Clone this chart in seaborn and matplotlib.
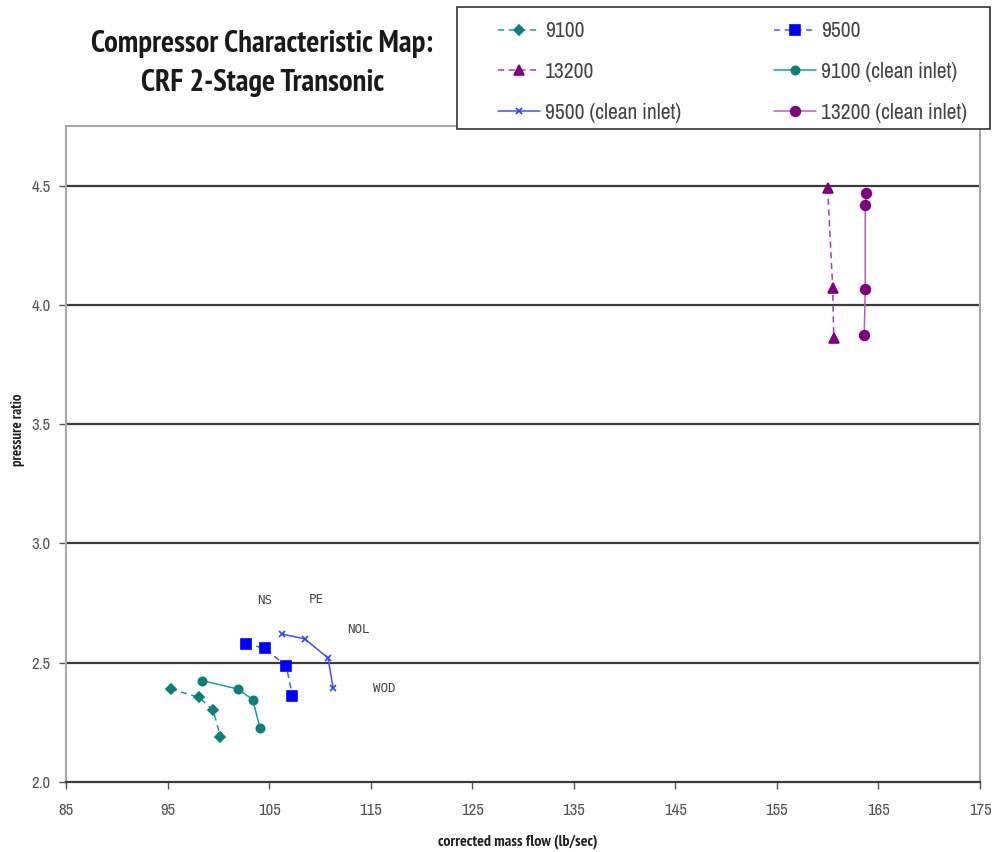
import matplotlib
matplotlib.use("Agg")
import matplotlib.pyplot as plt
from matplotlib import font_manager
from matplotlib.font_manager import FontProperties
from matplotlib.patches import Rectangle
import seaborn as sns
import pandas as pd

# Compressor map data: corrected mass flow (lb/sec) vs pressure ratio
mass_9100 = [95.3, 98.1, 99.5, 100.2]
pr_9100 = [2.39, 2.355, 2.30, 2.19]

mass_9500 = [102.7, 104.6, 106.7, 107.3]
pr_9500 = [2.58, 2.56, 2.485, 2.36]

mass_13200 = [160.0, 160.5, 160.6]
pr_13200 = [4.49, 4.07, 3.86]

mass_9100_clean = [98.4, 101.9, 103.4, 104.1]
pr_9100_clean = [2.425, 2.39, 2.345, 2.225]

mass_9500_clean = [106.3, 108.5, 110.8, 111.3]
pr_9500_clean = [2.62, 2.60, 2.52, 2.395]

mass_13200_clean = [163.8, 163.7, 163.7, 163.6]
pr_13200_clean = [4.47, 4.42, 4.065, 3.875]

series_names = ["9100", "9500", "13200",
                "9100 (clean inlet)", "9500 (clean inlet)", "13200 (clean inlet)"]

x_ticks = [85, 95, 105, 115, 125, 135, 145, 155, 165, 175]
y_ticks = [2.0, 2.5, 3.0, 3.5, 4.0, 4.5]

operating_labels = ["NS", "PE", "NOL", "WOD"]
operating_x = [104.6, 109.6, 113.8, 116.3]
operating_y = [2.76, 2.765, 2.64, 2.39]

frames = []
for name, xs, ys in zip(series_names,
                        [mass_9100, mass_9500, mass_13200,
                         mass_9100_clean, mass_9500_clean, mass_13200_clean],
                        [pr_9100, pr_9500, pr_13200,
                         pr_9100_clean, pr_9500_clean, pr_13200_clean]):
    frames.append(pd.DataFrame({"series": name, "flow": xs, "pr": ys}))
df = pd.concat(frames, ignore_index=True)

sns.set_theme(style="white")
plt.rcParams["font.family"] = ["Liberation Sans", "DejaVu Sans"]


def find_font(bold):
    """Return the file of a narrow/condensed sans face, if one is installed."""
    best = None
    for f in font_manager.fontManager.ttflist:
        fn = f.fname.lower()
        if ("narrow" in fn or "condensed" in fn) and "mono" not in fn and "serif" not in fn:
            is_bold = "bold" in fn
            is_ital = "italic" in fn or "oblique" in fn
            if is_ital or is_bold != bold:
                continue
            rank = 0 if "narrow" in fn else 1
            if best is None or rank < best[0]:
                best = (rank, f.fname)
    return best[1] if best else None


bold_file = find_font(True)
reg_file = find_font(False)
title_fp = FontProperties(fname=bold_file) if bold_file else FontProperties(family="Liberation Sans", weight="bold")
label_fp = FontProperties(fname=bold_file) if bold_file else FontProperties(family="Liberation Sans", weight="bold")
tick_fp = FontProperties(fname=reg_file) if reg_file else FontProperties(family="Liberation Sans")

styles = {
    "9100": dict(color="#1a9e98", marker="D", ls=(0, (4, 3)), mfc="#0d7f7a", ms=5),
    "9500": dict(color="#4a55ff", marker="s", ls=(0, (4, 3)), mfc="#0000ff", ms=6.5),
    "13200": dict(color="#a040a8", marker="^", ls=(0, (4, 3)), mfc="#800080", ms=7),
    "9100 (clean inlet)": dict(color="#1a9e98", marker="o", ls="-", mfc="#0d7f7a", ms=6),
    "9500 (clean inlet)": dict(color="#4050ff", marker="x", ls="-", mfc="#3040ff", ms=5),
    "13200 (clean inlet)": dict(color="#b060c0", marker="o", ls="-", mfc="#800080", ms=7),
}

fig = plt.figure(figsize=(9.94, 8.52), dpi=100)
ax = fig.add_axes([0.0664, 0.0822, 0.9195, 0.7698])
renderer = fig.canvas.get_renderer()

handles = {}
for name in series_names:
    st = styles[name]
    sub = df[df["series"] == name]
    sns.lineplot(data=sub, x="flow", y="pr", ax=ax, sort=False, estimator=None,
                 color=st["color"], linestyle=st["ls"], linewidth=1.1,
                 marker=st["marker"], markersize=st["ms"],
                 markerfacecolor=st["mfc"], markeredgecolor=st["mfc"],
                 markeredgewidth=1.2, legend=False)
    handles[name] = ax.lines[-1]

ax.set_xlim(85, 175)
ax.set_ylim(2.0, 4.75)
ax.set_xticks(x_ticks)
ax.set_xticklabels([str(t) for t in x_ticks])
ax.set_yticks(y_ticks)
ax.set_yticklabels([f"{t:.1f}" for t in y_ticks])
for lbl in ax.get_xticklabels() + ax.get_yticklabels():
    lbl.set_fontproperties(tick_fp)
    lbl.set_fontsize(12)
    lbl.set_color("#555555")

for y in y_ticks[1:]:
    ax.axhline(y, color="#3a3a3a", lw=1.6, zorder=0.5)

for side in ["left", "top", "right"]:
    ax.spines[side].set_color("#a8a8a8")
    ax.spines[side].set_linewidth(1.5)
ax.spines["bottom"].set_color("#3a3a3a")
ax.spines["bottom"].set_linewidth(1.6)

ax.tick_params(axis="both", direction="out", length=5, width=1, color="#555555",
               bottom=True, left=True, pad=6)
ax.tick_params(axis="x", pad=10)

xl = ax.set_xlabel("corrected mass flow (lb/sec)", fontproperties=label_fp,
                   color="#222222")
xl.set_fontsize(11.5)
xl.set_verticalalignment("center")
ax.xaxis.set_label_coords(0.4945, -0.091)
yl = ax.set_ylabel("pressure ratio", fontproperties=label_fp, color="#222222")
yl.set_fontsize(10.5)
yl.set_verticalalignment("center")
ax.yaxis.set_label_coords(-0.052, 0.537)

for lab, x, y in zip(operating_labels, operating_x, operating_y):
    ax.text(x, y, lab, ha="center", va="center", fontsize=9,
            family="DejaVu Sans Mono", color="#444444")

t1 = fig.text(0.264, 0.948, "Compressor Characteristic Map:", ha="center", va="center",
              fontproperties=title_fp, color="#1a1a1a")
t2 = fig.text(0.264, 0.902, "CRF 2-Stage Transonic", ha="center", va="center",
              fontproperties=title_fp, color="#1a1a1a")
# size the title so its first line spans about 343 px
t1.set_fontsize(20)
t2.set_fontsize(20)
size = 20 * 343.0 / t1.get_window_extent(renderer).width
t1.set_fontsize(size)
t2.set_fontsize(size)

# legend box drawn as its own frame, entries placed inside it
box = Rectangle((457 / 994, 1 - 129 / 852), 533 / 994, 122 / 852,
                transform=fig.transFigure, facecolor="white", edgecolor="#333333",
                linewidth=1.2, zorder=4)
fig.patches.append(box)

# legend text size chosen so "9500 (clean inlet)" spans about 137 px
probe = fig.text(0, 0, "9500 (clean inlet)", fontproperties=tick_fp, fontsize=15)
leg_size = 15 * 137.0 / probe.get_window_extent(renderer).width
probe.remove()
fs_px = leg_size * 100 / 72.0

order = ["9100", "13200", "9500 (clean inlet)",
         "9500", "9100 (clean inlet)", "13200 (clean inlet)"]
leg_fp = tick_fp.copy()
leg_fp.set_size(leg_size)
leg = fig.legend([handles[n] for n in order], order, ncol=2, loc="upper left",
                 bbox_to_anchor=(498 / 994, 1 - (31 - 0.45 * fs_px) / 852),
                 borderaxespad=0, borderpad=0, frameon=False, prop=leg_fp,
                 handlelength=42 / fs_px, handletextpad=5 / fs_px,
                 labelspacing=(40 - 0.9 * fs_px) / fs_px,
                 columnspacing=93 / fs_px, labelcolor="#444444")
leg.set_zorder(5)

fig.savefig("out.png", dpi=100)
